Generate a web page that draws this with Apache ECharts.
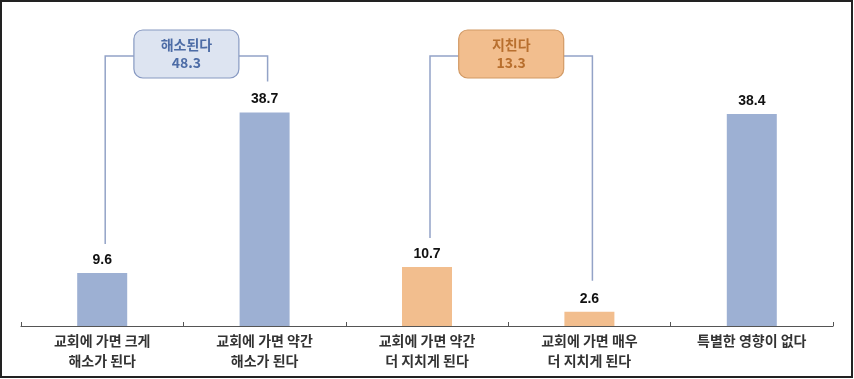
<!DOCTYPE html>
<html>
<head>
<meta charset="utf-8">
<script src="https://cdn.jsdelivr.net/npm/echarts@6/dist/echarts.min.js"></script>
<style>
html,body{margin:0;padding:0;background:#fff;}
#c{width:854px;height:379px;}
</style>
</head>
<body>
<div id="c"></div>
<script>
const categories = ['교회에 가면 크게\n해소가 된다', '교회에 가면 약간\n해소가 된다', '교회에 가면 약간\n더 지치게 된다', '교회에 가면 매우\n더 지치게 된다', '특별한 영향이 없다'];
const values = [9.6, 38.7, 10.7, 2.6, 38.4];
const groups = ['relief', 'relief', 'tired', 'tired', 'none'];
const bracketLabels = ['해소된다', '지친다'];
const bracketTotals = [48.3, 13.3];
const bracketMembers = [[0, 1], [2, 3]];

const BLUE = '#9DB0D3', ORANGE = '#F2BE8E';
const colorOf = g => g === 'tired' ? ORANGE : BLUE;

const chart = echarts.init(document.getElementById('c'));
chart.setOption({
  animation: false,
  backgroundColor: '#fff',
  grid: {left: 21, right: 21, top: 50, bottom: 53},
  xAxis: {
    type: 'category',
    data: categories,
    axisLine: {lineStyle: {color: '#555', width: 1.2}},
    axisTick: {show: true, inside: true, length: 4, lineStyle: {color: '#555'}},
    axisLabel: {
      color: '#333', fontSize: 14, fontWeight: 'bold', lineHeight: 20, margin: 5,
      fontFamily: 'Noto Sans CJK KR', interval: 0
    }
  },
  yAxis: {type: 'value', min: 0, max: 50, show: false, splitLine: {show: false}},
  series: [{
    type: 'bar',
    barWidth: 50,
    data: values.map((v, i) => ({value: v, itemStyle: {color: colorOf(groups[i])}})),
    label: {
      show: true, position: 'top', distance: 6,
      color: '#111', fontSize: 14, fontWeight: 'bold', fontFamily: 'Liberation Sans, Arial'
    }
  }]
});

function drawBrackets() {
  const g = [];
  g.push({type: 'rect', shape: {x: 1, y: 1, width: 851, height: 376},
    style: {fill: 'none', stroke: '#222', lineWidth: 2}, z: 100});
  const styles = [
    {fill: '#DDE4F1', stroke: '#8799C2', text: '#4D6CA6'},
    {fill: '#F2BE8E', stroke: '#D29A65', text: '#B86F2E'}
  ];
  const lineY = 56, boxTop = 30, boxH = 48, boxW = 105;
  bracketMembers.forEach((m, k) => {
    const pts = m.map(i => chart.convertToPixel({seriesIndex: 0}, [i, values[i]]));
    const xL = pts[0][0] + 3, xR = pts[1][0] + 3;
    const yL = pts[0][1] - 29, yR = pts[1][1] - 31;
    const cx = (xL + xR) / 2;
    const lineStyle = {stroke: '#93A3C7', lineWidth: 1.5, fill: 'none'};
    g.push({type: 'polyline', shape: {points: [[xL, yL], [xL, lineY], [cx - boxW / 2, lineY]]}, style: lineStyle});
    g.push({type: 'polyline', shape: {points: [[cx + boxW / 2, lineY], [xR, lineY], [xR, yR]]}, style: lineStyle});
    const s = styles[k];
    g.push({type: 'rect', shape: {x: cx - boxW / 2, y: boxTop, width: boxW, height: boxH, r: 9},
      style: {fill: s.fill, stroke: s.stroke, lineWidth: 1.2}});
    g.push({type: 'text', x: cx, y: boxTop + boxH / 2,
      style: {text: bracketLabels[k] + '\n' + bracketTotals[k].toFixed(1), fill: s.text,
        font: 'bold 14px "Noto Sans CJK KR"', lineHeight: 18, align: 'center', verticalAlign: 'middle'}});
  });
  chart.setOption({graphic: g});
}
drawBrackets();
</script>
</body>
</html>
